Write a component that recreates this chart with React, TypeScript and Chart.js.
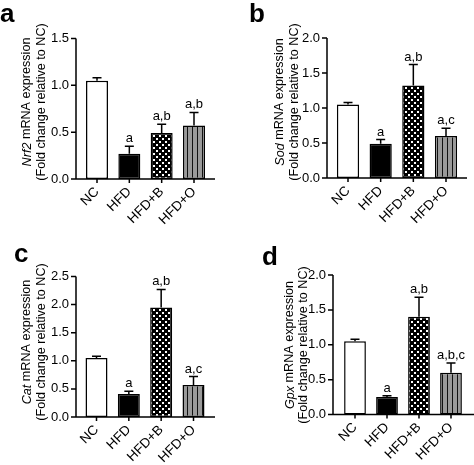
import React, { useEffect, useRef } from "react";
import { Chart, registerables } from "chart.js";

Chart.register(...registerables);

// ---------- data ----------
const categories = ["NC", "HFD", "HFD+B", "HFD+O"];

const nrf2Means = [1.05, 0.27, 0.49, 0.57];
const nrf2Errors = [0.03, 0.08, 0.095, 0.14];
const nrf2Letters = ["", "a", "a,b", "a,b"];
const nrf2Max = 1.5;

const sodMeans = [1.05, 0.49, 1.32, 0.6];
const sodErrors = [0.03, 0.06, 0.3, 0.11];
const sodLetters = ["", "a", "a,b", "a,c"];
const sodMax = 2.0;

const catMeans = [1.05, 0.41, 1.95, 0.57];
const catErrors = [0.03, 0.05, 0.32, 0.15];
const catLetters = ["", "a", "a,b", "a,c"];
const catMax = 2.5;

const gpxMeans = [1.05, 0.25, 1.4, 0.6];
const gpxErrors = [0.03, 0.02, 0.28, 0.14];
const gpxLetters = ["", "a", "a,b", "a,b,c"];
const gpxMax = 2.0;

const tickStep = 0.5;
const titleLine2 = "(Fold change relative to NC)";
const titleRest = " mRNA expression";

// ---------- layout (page pixels) ----------
const W = 474;
const H = 465;
const FONT = '"Liberation Sans", Arial, sans-serif';

type Panel = {
  letter: string;
  gene: string;
  means: number[];
  errors: number[];
  letters: string[];
  max: number;
  axisX: number;
  axisEnd: number;
  top: number;
  zero: number;
  c1: number;
  c4: number;
  t1: number;
  t2: number;
  tcy: number;
  lx: number;
  ly: number;
};

const panels: Panel[] = [
  { letter: "a", gene: "Nrf2", means: nrf2Means, errors: nrf2Errors, letters: nrf2Letters, max: nrf2Max,
    axisX: 76, axisEnd: 215, top: 38.5, zero: 179, c1: 97, c4: 194, t1: 27, t2: 42, tcy: 102, lx: 0, ly: 22 },
  { letter: "b", gene: "Sod", means: sodMeans, errors: sodErrors, letters: sodLetters, max: sodMax,
    axisX: 327, axisEnd: 467, top: 38, zero: 178, c1: 348, c4: 446, t1: 280, t2: 295, tcy: 102, lx: 249, ly: 22 },
  { letter: "c", gene: "Cat", means: catMeans, errors: catErrors, letters: catLetters, max: catMax,
    axisX: 76, axisEnd: 215, top: 276.5, zero: 417, c1: 96.5, c4: 193.5, t1: 27, t2: 42, tcy: 342, lx: 14, ly: 262 },
  { letter: "d", gene: "Gpx", means: gpxMeans, errors: gpxErrors, letters: gpxLetters, max: gpxMax,
    axisX: 333, axisEnd: 474, top: 275, zero: 414.5, c1: 355, c4: 451, t1: 290, t2: 304, tcy: 345, lx: 262, ly: 265 },
];

function makePatterns(ctx: CanvasRenderingContext2D) {
  const a = document.createElement("canvas");
  a.width = 6;
  a.height = 6;
  const ac = a.getContext("2d")!;
  ac.fillStyle = "#000";
  ac.fillRect(0, 0, 6, 6);
  ac.fillStyle = "#fff";
  ac.fillRect(0, 0, 2, 2);
  ac.fillRect(3, 3, 2, 2);
  const checker = ctx.createPattern(a, "repeat");

  const b = document.createElement("canvas");
  b.width = 5;
  b.height = 5;
  const bc = b.getContext("2d")!;
  bc.fillStyle = "#9a9a9a";
  bc.fillRect(0, 0, 5, 5);
  bc.fillStyle = "#111";
  bc.fillRect(2, 0, 1, 5);
  const stripes = ctx.createPattern(b, "repeat");
  return { checker, stripes };
}

function PanelChart({ p }: { p: Panel }) {
  const ref = useRef<HTMLCanvasElement | null>(null);
  useEffect(() => {
    const canvas = ref.current!;
    const ctx = canvas.getContext("2d")!;
    const { checker, stripes } = makePatterns(ctx);
    const s = (p.c4 - p.c1) / 3;
    const areaLeft = p.c1 - s / 2;
    const areaRight = p.c4 + s / 2;
    const yW = 40;
    const xH = 50;

    const decor = {
      id: "decor",
      afterDatasetsDraw(chart: any) {
        const c = chart.ctx as CanvasRenderingContext2D;
        const y = chart.scales.y;
        const meta = chart.getDatasetMeta(0);
        const zero = y.getPixelForValue(0);
        const topPx = y.getPixelForValue(p.max);
        c.save();
        c.strokeStyle = "#000";
        c.fillStyle = "#000";
        c.lineWidth = 1.5;
        // error bars + letters
        c.font = `13px ${FONT}`;
        c.textAlign = "center";
        c.textBaseline = "alphabetic";
        meta.data.forEach((bar: any, i: number) => {
          const bt = y.getPixelForValue(p.means[i]);
          const et = y.getPixelForValue(p.means[i] + p.errors[i]);
          c.beginPath();
          c.moveTo(bar.x, bt);
          c.lineTo(bar.x, et);
          c.moveTo(bar.x - 4.5, et);
          c.lineTo(bar.x + 4.5, et);
          c.stroke();
          if (p.letters[i]) c.fillText(p.letters[i], bar.x, et - 4);
        });
        // axes
        c.beginPath();
        c.moveTo(p.axisX, topPx);
        c.lineTo(p.axisX, zero);
        c.lineTo(p.axisEnd, zero);
        y.ticks.forEach((t: any) => {
          const py = y.getPixelForValue(t.value);
          c.moveTo(p.axisX - 5, py);
          c.lineTo(p.axisX, py);
        });
        meta.data.forEach((bar: any) => {
          c.moveTo(bar.x, zero);
          c.lineTo(bar.x, zero + 4);
        });
        c.stroke();
        // y title
        const fN = `12.6px ${FONT}`;
        const fI = `italic 12.6px ${FONT}`;
        c.save();
        c.translate(p.t1, p.tcy);
        c.rotate(-Math.PI / 2);
        c.textBaseline = "middle";
        c.textAlign = "left";
        c.font = fI;
        const w1 = c.measureText(p.gene).width;
        c.font = fN;
        const w2 = c.measureText(titleRest).width;
        const st = -(w1 + w2) / 2;
        c.font = fI;
        c.fillText(p.gene, st, 0);
        c.font = fN;
        c.fillText(titleRest, st + w1, 0);
        c.restore();
        c.save();
        c.translate(p.t2, p.tcy);
        c.rotate(-Math.PI / 2);
        c.textBaseline = "middle";
        c.textAlign = "center";
        c.font = fN;
        c.fillText(titleLine2, 0, 0);
        c.restore();
        // panel letter
        c.font = `bold 26px ${FONT}`;
        c.textAlign = "left";
        c.textBaseline = "alphabetic";
        c.fillText(p.letter, p.lx, p.ly);
        c.restore();
      },
    };

    const chart = new Chart(canvas, {
      type: "bar",
      data: {
        labels: categories,
        datasets: [
          {
            data: p.means,
            backgroundColor: ["#ffffff", "#000000", checker as any, stripes as any],
            borderColor: "#000",
            borderWidth: 1.5,
            borderSkipped: false,
            barPercentage: 0.68,
            categoryPercentage: 1,
          },
        ],
      },
      options: {
        responsive: false,
        animation: false,
        devicePixelRatio: 1,
        layout: {
          padding: {
            left: areaLeft - yW,
            right: W - areaRight,
            top: p.top,
            bottom: H - p.zero - xH,
          },
        },
        plugins: {
          legend: { display: false },
          tooltip: { enabled: false },
          title: { display: false },
        },
        scales: {
          x: {
            type: "category",
            offset: true,
            grid: { display: false, drawTicks: false },
            border: { display: false },
            ticks: {
              color: "#000",
              font: { family: FONT, size: 13.5 },
              minRotation: 45,
              maxRotation: 45,
              autoSkip: false,
              padding: 5,
            },
            afterFit: (sc: any) => {
              sc.height = xH;
            },
          },
          y: {
            min: 0,
            max: p.max,
            grid: { display: false, drawTicks: false },
            border: { display: false },
            ticks: {
              stepSize: tickStep,
              color: "#000",
              font: { family: FONT, size: 13 },
              padding: areaLeft - p.axisX + 7,
              callback: (v: any) => Number(v).toFixed(1),
            },
            afterFit: (sc: any) => {
              sc.width = yW;
            },
          },
        },
      },
      plugins: [decor],
    });
    return () => chart.destroy();
  }, [p]);
  return (
    <canvas
      ref={ref}
      width={W}
      height={H}
      style={{ position: "absolute", left: 0, top: 0, width: W, height: H }}
    />
  );
}

export default function App() {
  return (
    <div
      style={{
        position: "fixed",
        left: 0,
        top: 0,
        width: W,
        height: H,
        background: "#fff",
        overflow: "hidden",
      }}
    >
      {panels.map((p) => (
        <PanelChart key={p.letter} p={p} />
      ))}
    </div>
  );
}
